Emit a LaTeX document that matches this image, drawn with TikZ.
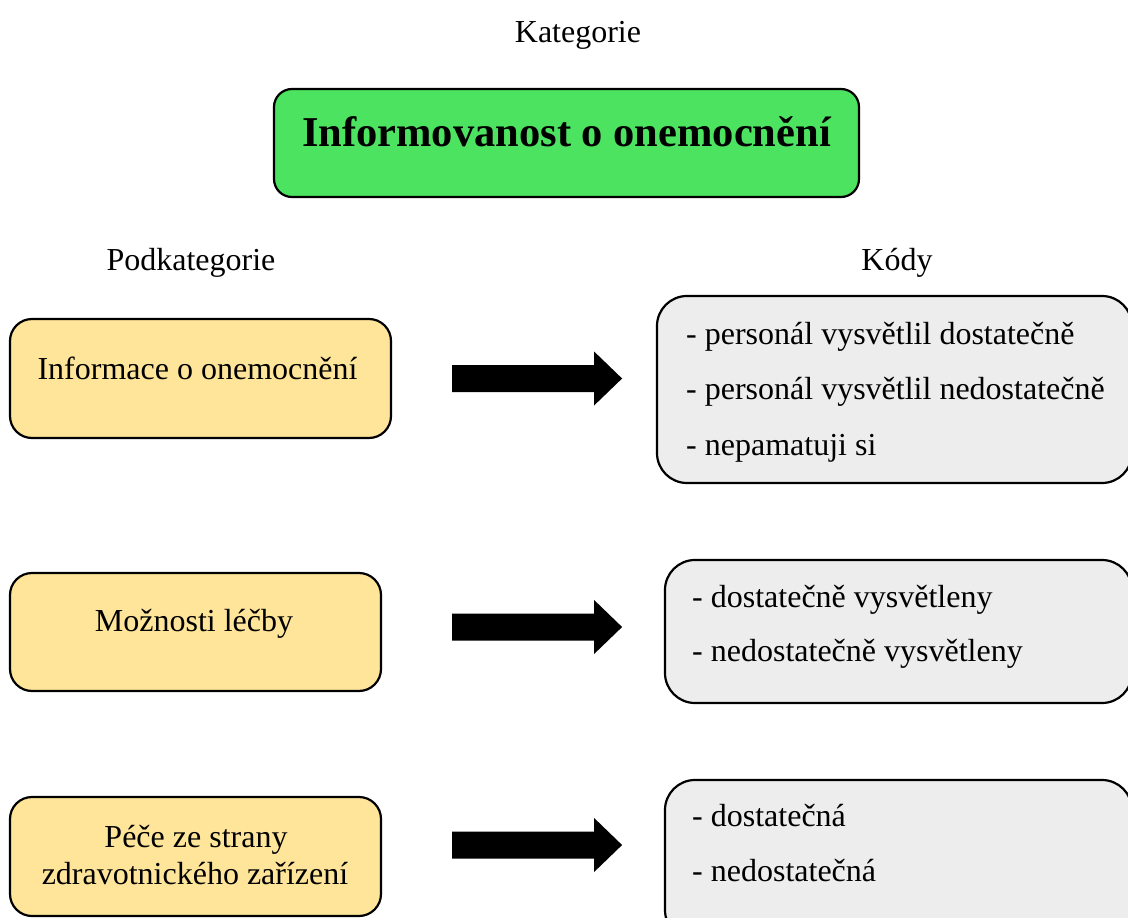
\documentclass[tikz,border=0pt]{standalone}
\usepackage{fontspec}
\setmainfont{Liberation Serif}
\begin{document}
\begin{tikzpicture}[x=1pt, y=-1pt,
  txt/.style={inner sep=0pt, font=\fontsize{32}{37}\selectfont},
  boxbase/.style={draw=black, line width=2.2pt, inner sep=0pt},
  catbox/.style={boxbase, fill=catgreen, rounded corners=18pt},
  subbox/.style={boxbase, fill=subyellow, rounded corners=22pt},
  codebox/.style={boxbase, fill=codegray, rounded corners=30pt},
  blockarrow/.pic={\fill[black] (0,-13.5) -- (142,-13.5) -- (142,-27) -- (170,0)
                     -- (142,27) -- (142,13.5) -- (0,13.5) -- cycle;}
]
\definecolor{catgreen}{RGB}{75,227,95}
\definecolor{subyellow}{RGB}{255,229,153}
\definecolor{codegray}{RGB}{237,237,237}

\useasboundingbox (0,0) rectangle (1128,918);
\clip (0,0) rectangle (1128,918);

% headings
\node[txt, anchor=base] (hkat) at (578,42) {Kategorie};
\node[txt, anchor=base] (hpod) at (191,270) {Podkategorie};
\node[txt, anchor=base] (hkod) at (897,270) {Kódy};

% category
\node[catbox, minimum width=585pt, minimum height=108pt] (cat) at (566.5,143) {};
\node[inner sep=0pt, anchor=base, font=\bfseries\fontsize{42.5}{48}\selectfont] (cattxt) at (566.5,146) {Informovanost o onemocnění};

% subcategories
\node[subbox, minimum width=381pt, minimum height=119pt] (p1) at (200.5,378.5) {};
\node[txt, anchor=base] (p1t) at (197.5,379) {Informace o onemocnění};

\node[subbox, minimum width=371pt, minimum height=118pt] (p2) at (195.5,632) {};
\node[txt, anchor=base] (p2t) at (194,631) {Možnosti léčby};

\node[subbox, minimum width=371pt, minimum height=119pt] (p3) at (195.5,856.5) {};
\node[txt, anchor=base] (p3a) at (196,847) {Péče ze strany};
\node[txt, anchor=base] (p3b) at (195,884) {zdravotnického zařízení};

% codes
\node[codebox, minimum width=475pt, minimum height=187pt] (k1) at (894.5,389.5) {};
\node[txt, anchor=base west] (k1a) at (686,344) {- personál vysvětlil dostatečně};
\node[txt, anchor=base west] (k1b) at (686,399) {- personál vysvětlil nedostatečně};
\node[txt, anchor=base west] (k1c) at (686,455) {- nepamatuji si};

\node[codebox, minimum width=467pt, minimum height=143pt] (k2) at (898.5,631.5) {};
\node[txt, anchor=base west] (k2a) at (692,607) {- dostatečně vysvětleny};
\node[txt, anchor=base west] (k2b) at (692,661) {- nedostatečně vysvětleny};

\node[codebox, minimum width=467pt, minimum height=160pt] (k3) at (898.5,860) {};
\node[txt, anchor=base west] (k3a) at (692,826) {- dostatečná};
\node[txt, anchor=base west] (k3b) at (692,881) {- nedostatečná};

% block arrows from subcategories to codes
\coordinate (a1) at ([xshift=60pt]p1.east |- 0,378.5);
\coordinate (a2) at ([xshift=70pt]p2.east |- 0,627);
\coordinate (a3) at ([xshift=70pt]p3.east |- 0,845);
\pic at (a1) {blockarrow};
\pic at (a2) {blockarrow};
\pic at (a3) {blockarrow};
\end{tikzpicture}
\end{document}
